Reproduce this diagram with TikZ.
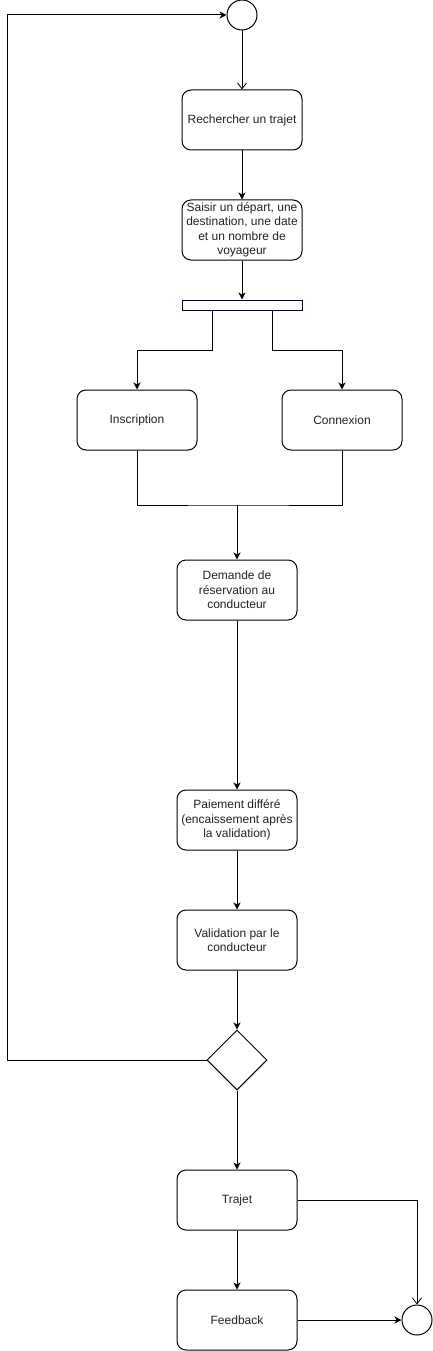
\documentclass[tikz,border=0pt]{standalone}
\usepackage{fontspec}
\setmainfont{Liberation Sans}
\usetikzlibrary{arrows.meta,shapes.geometric,calc}
\definecolor{navy}{RGB}{0,0,51}
\definecolor{txt}{RGB}{34,34,34}
\begin{document}
\begin{tikzpicture}[x=1pt,y=-1pt,
  line width=1pt,
  act/.style={draw=black, rounded corners=9pt, minimum width=120pt, minimum height=60pt,
    inner sep=0pt, align=center, font=\fontsize{12}{14.5}\selectfont, text=txt},
  state/.style={draw=black, circle, minimum size=30pt, inner sep=0pt, fill=white},
  bar/.style={draw=navy, fill=white, minimum width=120pt, minimum height=10pt, inner sep=0pt},
  dec/.style={draw=black, diamond, minimum width=60pt, minimum height=60pt, inner sep=0pt},
  arr/.style={-{Stealth[length=7pt,width=7pt,inset=2pt]}},
  oarr/.style={-{Straight Barb[length=6pt,width=9pt,line width=0.8pt]}}
]
\useasboundingbox (0,0) rectangle (433,1351);
\node[state] (start) at (242,15) {};
\node[act] (rech) at (242,120) {Rechercher un trajet};
\node[act] (saisir) at (242,230) {Saisir un départ, une\\destination, une date\\et un nombre de\\voyageur};
\node[bar] (fork) at (242,305) {};
\node[act] (insc) at (137,420) {Inscription};
\node[act] (conn) at (342,420) {Connexion};
\node[act] (dem) at (237,590) {Demande de\\réservation au\\conducteur};
\node[act] (pai) at (237,820) {Paiement différé\\(encaissement après\\la validation)};
\node[act] (val) at (237,940) {Validation par le\\conducteur};
\node[dec] (d) at (237,1060) {};
\node[act] (traj) at (237,1200) {Trajet};
\node[act] (feed) at (237,1320) {Feedback};
\node[state] (end) at (417,1320) {};
\coordinate (j) at (237,505);
\coordinate (c1) at (7,1060);
\coordinate (c2) at (7,15);

\draw[oarr] (start.south) -- (rech.north);
\draw[arr] (rech.south) -- (saisir.north);
\draw[arr] (saisir.south) -- (fork.north);
\draw[arr] ([xshift=-30pt]fork.south) -- ++(0,40) -| (insc.north);
\draw[arr] ([xshift=30pt]fork.south) -- ++(0,40) -| (conn.north);
\draw (insc.south) |- (j) -| (conn.south);
\draw[arr] (j) -- (dem.north);
\draw[arr] (dem.south) -- (pai.north);
\draw[arr] (pai.south) -- (val.north);
\draw[arr] (val.south) -- (d.north);
\draw[arr] (d.south) -- (traj.north);
\draw[arr] (d.west) -- (c1) -- (c2) -- (start.west);
\draw[arr] (traj.south) -- (feed.north);
\draw[oarr] (traj.east) -| (end.north);
\draw[arr] (feed.east) -- (end.west);
\end{tikzpicture}
\end{document}
